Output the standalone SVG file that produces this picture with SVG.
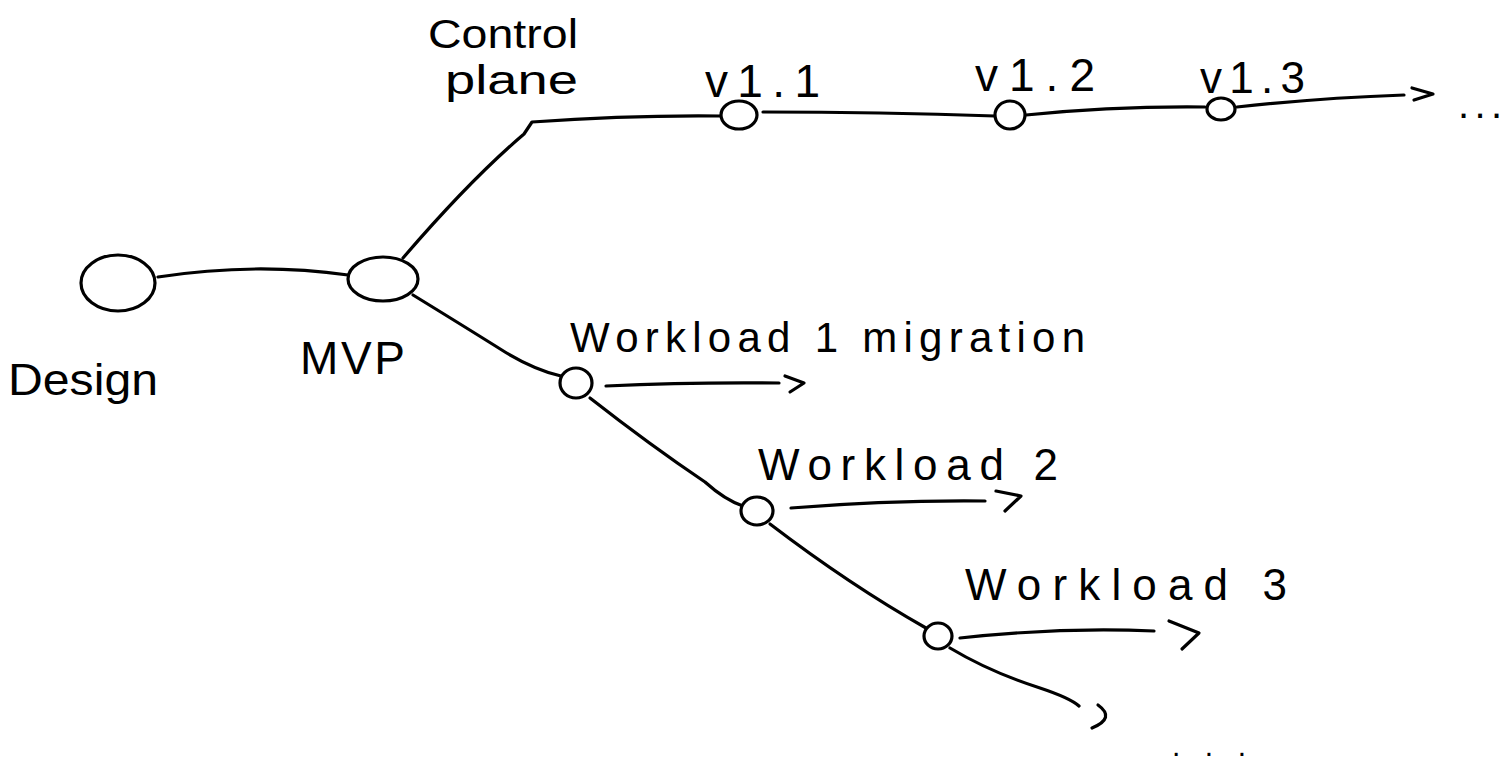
<svg xmlns="http://www.w3.org/2000/svg" width="1508" height="762" viewBox="0 0 1508 762">
<style>
.s{fill:none;stroke:#000;stroke-width:3.2;stroke-linecap:round;stroke-linejoin:round}
.n{fill:#fff;stroke:#000;stroke-width:3.2}
.t{font-family:"Liberation Sans",Arial,sans-serif;fill:#000}
</style>
<rect width="1508" height="762" fill="#fff"/>
<g id="connectors">
<path class="s" d="M158,277 Q255,262 348,275"/>
<path class="s" d="M403,258 Q470,180 524,134 L532,122 Q630,115 721,116"/>
<path class="s" d="M763,112 Q880,112 995,116"/>
<path class="s" d="M1026,115 Q1115,106 1205,107"/>
<path class="s" d="M1237,107 Q1320,98 1404,95"/>
<path class="s" d="M1412,88 L1433,94 L1414,100"/>
<path class="s" d="M413,295 Q470,330 505,352 Q535,370 561,376"/>
<path class="s" d="M606,386 Q690,382 779,383"/>
<path class="s" d="M785,376 L804,383 L790,392"/>
<path class="s" d="M590,398 Q650,445 705,482 Q725,500 743,506"/>
<path class="s" d="M791,508 Q890,500 985,501"/>
<path class="s" d="M996,491 L1021,496 L1005,511"/>
<path class="s" d="M770,524 Q850,585 926,628"/>
<path class="s" d="M960,638 Q1060,627 1154,631"/>
<path class="s" d="M1169,621 L1199,633 L1182,649"/>
<path class="s" d="M950,648 Q990,672 1040,688 Q1070,698 1079,706"/>
<path class="s" d="M1098,705 Q1116,718 1092,728"/>
</g>
<g id="design">
<ellipse class="n" cx="118" cy="283" rx="37" ry="28"/>
<text class="t" x="8" y="395" font-size="44" textLength="150" lengthAdjust="spacingAndGlyphs">Design</text>
</g>
<g id="mvp">
<ellipse class="n" cx="383" cy="279" rx="35" ry="22"/>
<text class="t" x="300" y="374" font-size="46" textLength="105" lengthAdjust="spacing">MVP</text>
</g>
<g id="control-plane">
<text class="t" x="428" y="48" font-size="40" textLength="150" lengthAdjust="spacingAndGlyphs">Control</text>
<text class="t" x="445" y="94" font-size="40" textLength="133" lengthAdjust="spacingAndGlyphs">plane</text>
</g>
<g id="v1-1">
<ellipse class="n" cx="739" cy="115" rx="18" ry="14"/>
<text class="t" x="705" y="97" font-size="46" textLength="115" lengthAdjust="spacing">v1.1</text>
</g>
<g id="v1-2">
<ellipse class="n" cx="1010" cy="115" rx="15" ry="14"/>
<text class="t" x="975" y="91" font-size="46" textLength="120" lengthAdjust="spacing">v1.2</text>
</g>
<g id="v1-3">
<ellipse class="n" cx="1221" cy="109" rx="14" ry="11"/>
<text class="t" x="1200" y="93" font-size="44" textLength="105" lengthAdjust="spacing">v1.3</text>
<text class="t" x="1458" y="118" font-size="40" textLength="44" lengthAdjust="spacing">...</text>
</g>
<g id="workload-1">
<ellipse class="n" cx="576" cy="383" rx="16" ry="15"/>
<text class="t" x="570" y="352" font-size="42" textLength="515" lengthAdjust="spacing">Workload 1 migration</text>
</g>
<g id="workload-2">
<ellipse class="n" cx="757" cy="511" rx="16" ry="14"/>
<text class="t" x="758" y="480" font-size="44" textLength="300" lengthAdjust="spacing">Workload 2</text>
</g>
<g id="workload-3">
<ellipse class="n" cx="938" cy="636" rx="14" ry="13"/>
<text class="t" x="965" y="600" font-size="44" textLength="322" lengthAdjust="spacing">Workload 3</text>
<text class="t" x="1172" y="756" font-size="30" textLength="74" lengthAdjust="spacing">...</text>
</g>
</svg>
